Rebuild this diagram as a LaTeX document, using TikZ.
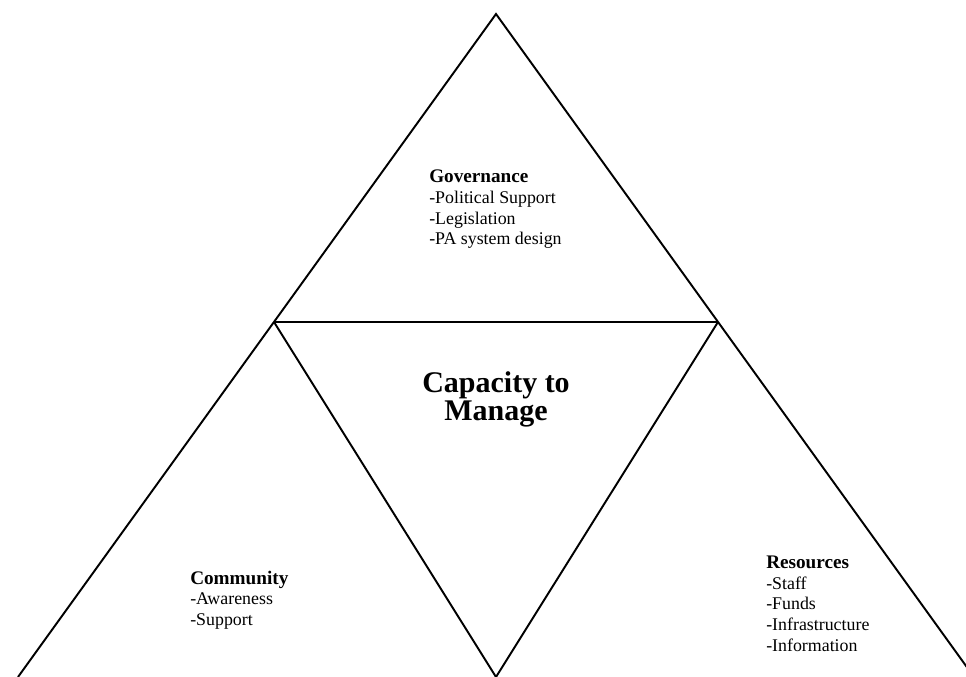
\documentclass[tikz,border=0pt]{standalone}
\usepackage{fontspec}
\setmainfont{Liberation Serif}
\begin{document}
\begin{tikzpicture}[x=0.75pt,y=-0.75pt,
  edge/.style={line width=1.45pt, line join=miter},
  block/.style={anchor=north west, inner sep=0pt, align=left,
    font=\fontsize{13.4}{15.6}\selectfont},
  title/.style={anchor=center, inner sep=0pt, align=center,
    font=\fontsize{22.5}{20.8}\selectfont\bfseries}]
\useasboundingbox (0,0) rectangle (966,677);
\clip (0,0) rectangle (966,677);

\newcommand{\headline}[1]{{\fontsize{14.4}{15.6}\selectfont\bfseries #1}}

% corners of the outer triangle and the inner inverted one
\coordinate (apex) at (496,14);
\coordinate (bl) at (18,677);
\coordinate (br) at (974,677);
\coordinate (ml) at (274,322);
\coordinate (mr) at (718,322);
\coordinate (bm) at (496,677);

\draw[edge] (bl) -- (apex) -- (br);
\draw[edge] (ml) -- (mr);
\draw[edge] (ml) -- (bm) -- (mr);

% labels
\node[block] (gov) at (429,169.5) {\headline{Governance}\\-Political Support\\-Legislation\\-PA system design};
\node[title] (cap) at (496,399.5) {Capacity to\\Manage};
\node[block] (com) at (190,570.5) {\headline{Community}\\-Awareness\\-Support};
\node[block] (res) at (766,555.5) {\headline{Resources}\\-Staff\\-Funds\\-Infrastructure\\-Information};
\end{tikzpicture}
\end{document}
